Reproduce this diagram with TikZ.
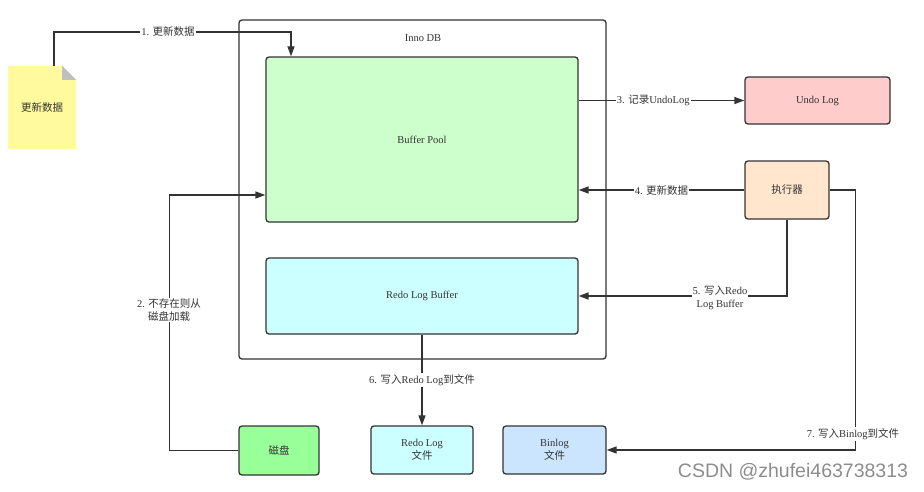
\documentclass[tikz,border=0pt]{standalone}
\usepackage{fontspec}
\setmainfont{Liberation Serif}
\newfontfamily\cjk{Noto Sans CJK SC}
\newfontfamily\wmfont{Liberation Sans}
\usetikzlibrary{arrows.meta}
\definecolor{linec}{HTML}{333333}
\definecolor{notey}{HTML}{FFFA9E}
\definecolor{bpgreen}{HTML}{CCFFCC}
\definecolor{rbcyan}{HTML}{CCFFFF}
\definecolor{undopink}{HTML}{FFCCCC}
\definecolor{execor}{HTML}{FFE6CC}
\definecolor{diskg}{HTML}{99FF99}
\definecolor{binb}{HTML}{CCE5FF}
\tikzset{
  box/.style={draw=linec, line width=1.3pt, rounded corners=3pt, inner sep=0pt, align=center, font=\fontsize{10.5}{13}\selectfont, text=linec},
  arr/.style={draw=linec, line width=1.4pt, -{Triangle[length=10pt,width=7pt]}},
  lbl/.style={fill=white, inner sep=1pt, align=center, font=\fontsize{10.5}{12.5}\selectfont, text=linec},
}
\begin{document}
\begin{tikzpicture}[x=1pt,y=-1pt]
\useasboundingbox (0,0) rectangle (924,491);
% InnoDB container
\node[box, minimum width=367, minimum height=339] (innodb) at (422.5,189.5) {};
\node[font=\fontsize{10.5}{13}\selectfont, text=linec] (innolbl) at (423,38) {Inno DB};
% boxes
\node[box, fill=bpgreen, minimum width=312, minimum height=165] (bp) at (422,139.5) {Buffer Pool};
\node[box, fill=rbcyan, minimum width=312, minimum height=76] (rb) at (422,296) {Redo Log Buffer};
\node[box, fill=undopink, minimum width=145, minimum height=47] (undo) at (817.5,100.5) {Undo Log};
\node[box, fill=execor, minimum width=84, minimum height=58] (exec) at (787,190) {{\cjk 执行器}};
\node[box, fill=diskg, minimum width=80, minimum height=49] (disk) at (279,450.5) {{\cjk 磁盘}};
\node[box, fill=rbcyan, minimum width=102, minimum height=48] (rlf) at (422,450) {Redo Log\\{\cjk 文件}};
\node[box, fill=binb, minimum width=103, minimum height=48] (bl) at (554.5,450) {Binlog\\{\cjk 文件}};
% note
\node[minimum width=68, minimum height=83, inner sep=0pt] (note) at (42,107.5) {};
\fill[notey] (note.south west) -- (note.north west) -- ([xshift=-14pt]note.north east) -- ([yshift=-14pt]note.north east) -- (note.south east) -- cycle;
\fill[black!25] ([xshift=-14pt]note.north east) -- ([xshift=-14pt,yshift=-14pt]note.north east) -- ([yshift=-14pt]note.north east) -- cycle;
\node[font=\fontsize{10.5}{13}\selectfont, text=linec] (notetext) at (note.center) {{\cjk 更新数据}};
% connectors
\draw[arr] ([xshift=12pt]note.north) -- ++(0,-34) coordinate (c1) -| ([xshift=-131pt]bp.north);
\node[lbl] (l1) at (168,32) {1. {\cjk 更新数据}};
\draw[arr] (disk.west) -- ++(-69,0) |- ([yshift=-55.5pt]bp.west);
\node[lbl] (l2) at (169,310) {2. {\cjk 不存在则从}\\{\cjk 磁盘加载}};
\draw[arr] (bp.east |- undo.west) -- node[lbl, pos=0.45] (l3) {3. {\cjk 记录}UndoLog} (undo.west);
\draw[arr] (exec.west) -- node[lbl, pos=0.5] (l4) {4. {\cjk 更新数据}} (bp.east |- exec.west);
\draw[arr] (exec.south) -- (exec.south |- rb.east) -- (rb.east);
\node[lbl] (l5) at (720,298) {5. {\cjk 写入}Redo\\Log Buffer};
\draw[arr] (rb.south) -- node[lbl, pos=0.5] (l6) {6. {\cjk 写入}Redo Log{\cjk 到文件}} (rlf.north);
\draw[arr] (exec.east) -- ++(26,0) |- (bl.east);
\node[lbl] (l7) at (853,434) {7. {\cjk 写入}Binlog{\cjk 到文件}};
% watermark
\node[font=\wmfont\fontsize{19.5}{22}\selectfont, text=black!45] (wm) at (793,472) {CSDN @zhufei463738313};
\end{tikzpicture}
\end{document}
